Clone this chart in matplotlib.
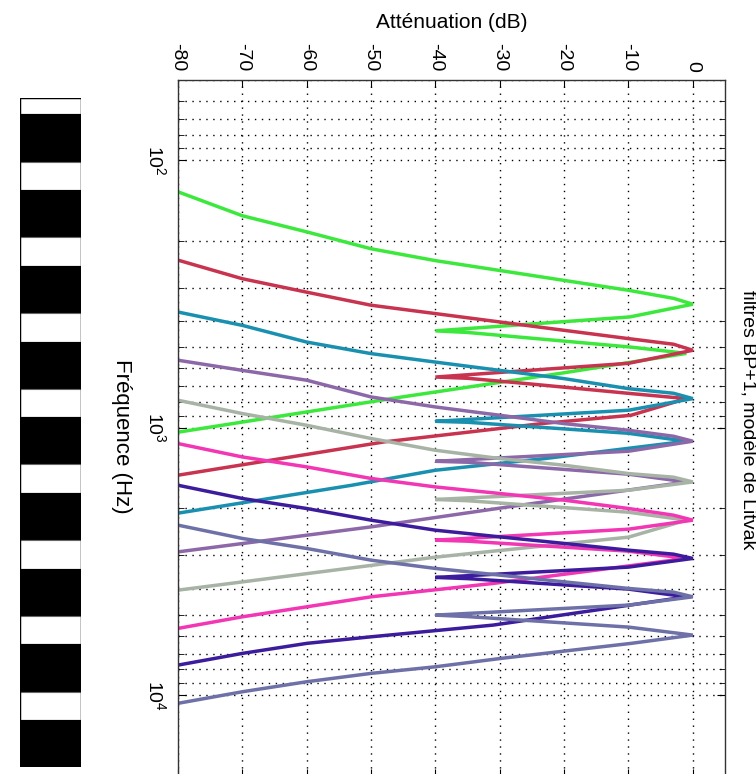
import matplotlib
matplotlib.use("Agg")
import matplotlib.pyplot as plt
from matplotlib.patches import Rectangle
from matplotlib.ticker import LogLocator, NullFormatter

plt.rcParams['font.family'] = ['Liberation Sans', 'DejaVu Sans']
plt.rcParams['mathtext.fontset'] = 'custom'
plt.rcParams['mathtext.rm'] = 'Liberation Sans'
plt.rcParams['mathtext.it'] = 'Liberation Sans:italic'

# frequency (Hz) / attenuation (dB) for each filter
green_f = [131, 161, 185, 214, 237, 258, 281, 306, 328, 345, 385, 434, 440, 499, 527, 626, 769, 1039]
green_db = [-80, -70, -60, -50, -40, -30, -20, -10, -3, 0, -9.8, -40, -35, -9.7, -1, -20.6, -45.5, -80]

red_f = [236, 277, 311, 348, 374, 402, 432, 464, 487, 513, 574, 646, 653, 683, 745, 778, 898, 962, 1130, 1505]
red_db = [-80, -70, -60, -50, -40, -30, -20, -10, -3, 0, -10, -40, -35, -26, -9.6, -1, -9.6, -23, -48, -80]

cyan_f = [369, 414, 478, 528, 568, 610, 655, 714, 743, 778, 860, 946, 954, 1049, 1123, 1304, 1442, 1641, 2087]
cyan_db = [-80, -70, -60, -50, -40, -30, -20, -10, -3, 0, -10, -40, -35, -10, -1, -23, -40, -53, -80]

purple_f = [559, 610, 664, 767, 836, 898, 965, 1022, 1076, 1123, 1224, 1335, 1346, 1492, 1595, 1978, 2349, 2913]
purple_db = [-80, -70, -60, -50, -40, -30, -20, -10, -3, 0, -10, -40, -35, -10, -1, -28.7, -50, -80]

gray_f = [789, 885, 979, 1097, 1214, 1304, 1381, 1484, 1531, 1595, 1713, 1855, 1875, 2070, 2217, 2566, 3049, 4051]
gray_db = [-80, -70, -60, -50, -40, -30, -20, -10, -3, 0, -10, -40, -35, -10, -1, -10, -40, -80]

pink_f = [1146, 1286, 1401, 1548, 1665, 1762, 1866, 2005, 2124, 2217, 2396, 2634, 2657, 2895, 3083, 3823, 4291, 5097, 5632]
pink_db = [-80, -70, -60, -50, -40, -30, -20, -10, -3, 0, -10, -40, -35, -10, -1, -31, -50, -70, -80]

indigo_f = [1641, 1839, 2005, 2217, 2417, 2560, 2709, 2871, 2971, 3083, 3322, 3631, 3668, 4015, 4291, 5473, 6055, 6408, 6986, 7727]
indigo_db = [-80, -70, -60, -50, -40, -30, -20, -10, -3, 0, -10, -40, -35, -10, -1, -31, -50, -60, -70, -80]

slate_f = [2314, 2595, 2829, 3129, 3360, 3559, 3771, 3992, 4121, 4291, 4608, 5023, 5088, 5569, 5967,
           6408, 7293, 7839, 8298, 8918, 9721, 10740]
slate_db = [-80, -70, -60, -50, -40, -30, -20, -10, -3, 0, -10, -40, -35, -10, 0,
            -9.6, -29.8, -40, -50, -60, -70, -80]

curves = [
    (green_f, green_db, '#3de83d'),
    (red_f, red_db, '#c8334f'),
    (cyan_f, cyan_db, '#1a90b0'),
    (purple_f, purple_db, '#8c68a8'),
    (gray_f, gray_db, '#a7b3a5'),
    (pink_f, pink_db, '#f236b4'),
    (indigo_f, indigo_db, '#3c1c9c'),
    (slate_f, slate_db, '#6e70a8'),
]

db_ticks = list(range(-80, 1, 10))

# black / white strip on the left (top, bottom of each band in pixels)
strip_edges = [98, 114, 162, 190, 237, 266, 313, 342, 389, 417, 464, 493, 540, 569, 616, 644, 692, 720, 767]

W, H = 756, 774
fig = plt.figure(figsize=(W / 100, H / 100), dpi=100)

# main axes: attenuation runs left->right, frequency runs top->bottom
ax = fig.add_axes([178 / W, (H - 775.5) / H, (725 - 178) / W, (775.5 - 80) / H])
for f, db, c in curves:
    ax.plot(db, f, color=c, lw=2.5, solid_joinstyle='miter')

ax.set_yscale('log')
ax.set_xlim(-80, 5)
ax.set_ylim(20000, 50)

ax.set_xticks(db_ticks)
ax.set_xticklabels([str(t) for t in db_ticks])
ax.xaxis.tick_top()
ax.tick_params(axis='x', which='both', direction='in', top=True, bottom=True,
               labeltop=True, labelbottom=False, labelrotation=270, length=5, pad=6,
               labelsize=14)
for lab in ax.get_xticklabels():
    lab.set_ha('center')
    lab.set_va('bottom')

ax.yaxis.set_major_locator(LogLocator(base=10, numticks=10))
ax.yaxis.set_minor_locator(LogLocator(base=10, subs=range(2, 10), numticks=50))
ax.yaxis.set_minor_formatter(NullFormatter())
ax.tick_params(axis='y', which='major', direction='in', left=True, right=True,
               length=6, labelrotation=270, pad=8, labelsize=14)
ax.tick_params(axis='y', which='minor', direction='in', left=True, right=True, length=4)
for lab in ax.get_yticklabels():
    lab.set_va('center')
    lab.set_ha('right')

dots = (0, (1, 4))
ax.grid(True, which='major', axis='both', color='black', linestyle=dots, lw=1.0)
ax.grid(True, which='minor', axis='y', color='black', linestyle=dots, lw=1.0)
for sp in ax.spines.values():
    sp.set_linewidth(1.0)
    sp.set_color('#333333')

fig.text(451.5 / W, 1 - 22 / H, 'Atténuation (dB)', ha='center', va='center', fontsize=15)
fig.text(748 / W, 1 - 420 / H, 'filtres BP+1, modèle de Litvak', rotation=270,
         ha='center', va='center', fontsize=14)
fig.text(121 / W, 1 - 436 / H, 'Fréquence (Hz)', rotation=270, ha='center', va='center', fontsize=16)

# strip
axs = fig.add_axes([20 / W, (H - 767) / H, 61 / W, (767 - 98) / H])
axs.set_xlim(0, 1)
axs.set_ylim(767, 98)
axs.axis('off')
for i in range(len(strip_edges) - 1):
    y0, y1 = strip_edges[i], strip_edges[i + 1]
    white = (i % 2 == 0)
    axs.add_patch(Rectangle((0, y0), 1, y1 - y0, facecolor='white' if white else 'black',
                            edgecolor='#666666' if white else 'black', lw=0.8))
axs.add_patch(Rectangle((0, 98), 1, 767 - 98, fill=False, edgecolor='black', lw=1.0))

fig.savefig('out.png', dpi=100)
